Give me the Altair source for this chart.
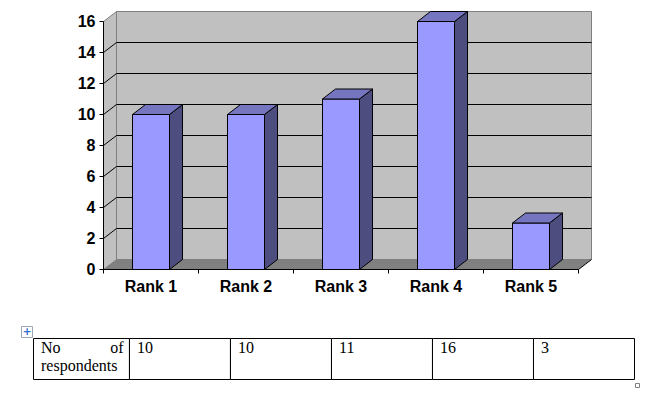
import altair as alt
import pandas as pd

# ---------------- data ----------------
categories = ["Rank 1", "Rank 2", "Rank 3", "Rank 4", "Rank 5"]
values = [10, 10, 11, 16, 3]
y_ticks = [0, 2, 4, 6, 8, 10, 12, 14, 16]
table_label = "No of respondents"

# ---------------- geometry / style constants ----------------
N = len(categories)
Y_MAX = y_ticks[-1]
W, H = 651, 380
X_RANGE = [95.5, 95.5 + 95 * N]
Y_RANGE = [261.5, 261.5 - 15.5 * Y_MAX]
PX_X = (X_RANGE[1] - X_RANGE[0]) / N          # pixels per category
PX_Y = (Y_RANGE[0] - Y_RANGE[1]) / Y_MAX      # pixels per value unit
BAR_HALF = 18.5 / PX_X
DX = 13 / PX_X
DZ = 10 / PX_Y
TICK = 4
LABEL_COL = 0.95

FRONT = "#9999ff"
SIDE = "#4d4d80"
TOP = "#7575c0"
WALL = "#c0c0c0"
FLOOR = "#808080"
EDGE = "#808080"
SANS = "Liberation Sans"
SERIF = "Liberation Serif"
AXIS_FONT_SIZE = 16

xs = alt.Scale(domain=[0, N], range=X_RANGE, nice=False, zero=False)
ys = alt.Scale(domain=[0, Y_MAX], range=Y_RANGE, nice=False, zero=False)


def X(f):
    return alt.X(f, scale=xs, axis=None)


def Y(f):
    return alt.Y(f, scale=ys, axis=None)


# ---------------- 3-D chart frame ----------------
wall_df = pd.DataFrame({"x": [DX], "x2": [N + DX], "y": [DZ], "y2": [Y_MAX + DZ]})
back = alt.Chart(wall_df).mark_rect(fill=WALL, stroke=EDGE, strokeWidth=1).encode(
    x=X("x:Q"), x2="x2:Q", y=Y("y:Q"), y2="y2:Q"
)

side_df = pd.DataFrame({"x": [0, DX], "y": [0, DZ], "y2": [Y_MAX, Y_MAX + DZ]})
side_wall = alt.Chart(side_df).mark_area(
    orient="vertical", fill=WALL, stroke=EDGE, strokeWidth=1
).encode(x=X("x:Q"), y=alt.Y("y:Q", scale=ys, axis=None, stack=None), y2="y2:Q")

floor_df = pd.DataFrame({"y": [0, DZ], "x": [0, DX], "x2": [N, N + DX]})
floor = alt.Chart(floor_df).mark_area(orient="horizontal", fill=FLOOR).encode(
    y=Y("y:Q"), x=alt.X("x:Q", scale=xs, axis=None, stack=None), x2="x2:Q"
)

floor_edge_df = pd.DataFrame({"x": [N], "x2": [N + DX], "y": [0], "y2": [DZ]})
floor_edge = alt.Chart(floor_edge_df).mark_rule(color="black", strokeWidth=1).encode(
    x=X("x:Q"), x2="x2:Q", y=Y("y:Q"), y2="y2:Q"
)

inner_ticks = y_ticks[1:-1]
grid_df = pd.DataFrame({
    "x": [DX] * len(inner_ticks), "x2": [N + DX] * len(inner_ticks),
    "y": [t + DZ for t in inner_ticks],
})
grid = alt.Chart(grid_df).mark_rule(color="black", strokeWidth=1).encode(
    x=X("x:Q"), x2="x2:Q", y=Y("y:Q")
)

diag_df = pd.DataFrame({
    "x": [0] * len(inner_ticks), "x2": [DX] * len(inner_ticks),
    "y": inner_ticks, "y2": [t + DZ for t in inner_ticks],
})
diag = alt.Chart(diag_df).mark_rule(color="black", strokeWidth=1).encode(
    x=X("x:Q"), x2="x2:Q", y=Y("y:Q"), y2="y2:Q"
)

# ---------------- axes (drawn through the scales) ----------------
axis_lines_df = pd.DataFrame({
    "x": [0, 0], "x2": [0, N], "y": [0, 0], "y2": [Y_MAX, 0],
})
axis_lines = alt.Chart(axis_lines_df).mark_rule(color="black", strokeWidth=1).encode(
    x=X("x:Q"), x2="x2:Q", y=Y("y:Q"), y2="y2:Q"
)

yt_df = pd.DataFrame({"y": y_ticks, "x": [-TICK / PX_X] * len(y_ticks),
                      "x2": [0] * len(y_ticks), "lab": [str(t) for t in y_ticks]})
y_tick_marks = alt.Chart(yt_df).mark_rule(color="black", strokeWidth=1).encode(
    x=X("x:Q"), x2="x2:Q", y=Y("y:Q")
)
y_labels = alt.Chart(yt_df).mark_text(
    align="right", baseline="middle", dx=-(TICK + 4), font=SANS, fontWeight="bold",
    fontSize=AXIS_FONT_SIZE, color="black",
).encode(x=X("x2:Q"), y=Y("y:Q"), text="lab:N")

xt_df = pd.DataFrame({"x": list(range(N + 1)), "y": [0] * (N + 1),
                      "y2": [-TICK / PX_Y] * (N + 1)})
x_tick_marks = alt.Chart(xt_df).mark_rule(color="black", strokeWidth=1).encode(
    x=X("x:Q"), y=Y("y:Q"), y2="y2:Q"
)

# ---------------- bars ----------------
bars_df = pd.DataFrame({"cat": categories, "v": values})
bars_df["i"] = range(N)
bars_df["xc"] = bars_df["i"] + 0.5
bars_df["xl"] = bars_df["xc"] - BAR_HALF
bars_df["xr"] = bars_df["xc"] + BAR_HALF
bars_df["base"] = 0

x_labels = alt.Chart(bars_df).mark_text(
    align="center", baseline="top", dy=TICK + 5, font=SANS, fontWeight="bold",
    fontSize=AXIS_FONT_SIZE, color="black",
).encode(x=X("xc:Q"), y=Y("base:Q"), text="cat:N")

front = alt.Chart(bars_df).mark_rect(fill=FRONT, stroke="black", strokeWidth=1).encode(
    x=X("xl:Q"), x2="xr:Q", y=Y("base:Q"), y2="v:Q"
)

side_rows, top_rows = [], []
for c, v, xl, xr in zip(bars_df["cat"], bars_df["v"], bars_df["xl"], bars_df["xr"]):
    side_rows.append({"cat": c, "x": xr, "y": 0, "y2": v})
    side_rows.append({"cat": c, "x": xr + DX, "y": DZ, "y2": v + DZ})
    top_rows.append({"cat": c, "y": v, "x": xl, "x2": xr})
    top_rows.append({"cat": c, "y": v + DZ, "x": xl + DX, "x2": xr + DX})

sides = alt.Chart(pd.DataFrame(side_rows)).mark_area(
    orient="vertical", fill=SIDE, stroke="black", strokeWidth=1
).encode(
    x=X("x:Q"), y=alt.Y("y:Q", scale=ys, axis=None, stack=None), y2="y2:Q",
    detail="cat:N",
)

tops = alt.Chart(pd.DataFrame(top_rows)).mark_area(
    orient="horizontal", fill=TOP, stroke="black", strokeWidth=1
).encode(
    y=Y("y:Q"), x=alt.X("x:Q", scale=xs, axis=None, stack=None), x2="x2:Q",
    detail="cat:N",
)

chart3d = alt.layer(
    back, side_wall, floor, grid, diag, floor_edge,
    axis_lines, y_tick_marks, x_tick_marks, y_labels, x_labels,
    front, sides, tops,
)

# ---------------- table ----------------
tx = alt.Scale(domain=[-LABEL_COL, N], range=[25.5, 626.5], nice=False, zero=False)
TABLE_TOP, TABLE_BOTTOM = 330.5, 371.5
LINE1, LINE2 = 345, 362.5

cells_df = pd.DataFrame({
    "x": [-LABEL_COL] + list(range(N)),
    "x2": [0] + [i + 1 for i in range(N)],
})
cells = alt.Chart(cells_df).mark_rect(fill="white", stroke="black", strokeWidth=1).encode(
    x=alt.X("x:Q", scale=tx, axis=None), x2="x2:Q",
    y=alt.value(TABLE_TOP), y2=alt.value(TABLE_BOTTOM),
)

vals_df = pd.DataFrame({"x": list(range(N)), "t": [str(v) for v in values]})
val_text = alt.Chart(vals_df).mark_text(
    align="left", baseline="alphabetic", dx=7.5, font=SERIF, fontSize=16, color="black"
).encode(x=alt.X("x:Q", scale=tx, axis=None), y=alt.value(LINE1), text="t:N")

words = table_label.split(" ")
lbl_left_df = pd.DataFrame({"x": [-LABEL_COL, -LABEL_COL], "t": [words[0], words[2]],
                            "y": [LINE1, LINE2]})
lbl_left = alt.Chart(lbl_left_df).mark_text(
    align="left", baseline="alphabetic", dx=7.5, font=SERIF, fontSize=16, color="black"
).encode(
    x=alt.X("x:Q", scale=tx, axis=None),
    y=alt.Y("y:Q", scale=alt.Scale(domain=[0, H], range=[0, H]), axis=None),
    text="t:N",
)
lbl_right_df = pd.DataFrame({"x": [0], "t": [words[1]]})
lbl_right = alt.Chart(lbl_right_df).mark_text(
    align="right", baseline="alphabetic", dx=-6, font=SERIF, fontSize=16, color="black"
).encode(x=alt.X("x:Q", scale=tx, axis=None), y=alt.value(LINE1), text="t:N")

table = alt.layer(cells, val_text, lbl_left, lbl_right)

# ---------------- decorations (Word table handles) ----------------
dummy = pd.DataFrame({"a": [0]})
move_box = alt.Chart(dummy).mark_rect(fill="white", stroke="#9aa6b8", strokeWidth=1).encode(
    x=alt.value(13.5), x2=alt.value(24.5), y=alt.value(318.5), y2=alt.value(329.5),
)
move_icon = alt.Chart(dummy).mark_text(
    text="+", font="DejaVu Sans", fontSize=11, fontWeight="bold", color="#3a6fd0",
    align="center", baseline="middle",
).encode(x=alt.value(19), y=alt.value(324))
size_box = alt.Chart(dummy).mark_rect(fill="white", stroke="#808080", strokeWidth=1).encode(
    x=alt.value(627.5), x2=alt.value(631.5), y=alt.value(375.5), y2=alt.value(379.5),
)
decor = alt.layer(move_box, move_icon, size_box)

chart = alt.layer(chart3d, table, decor).resolve_scale(
    x="independent", y="independent"
).properties(
    width=W, height=H, padding=0, autosize=alt.AutoSizeParams(type="none"),
    background="white",
).configure_view(strokeWidth=0)

chart.save("out.html", embed_options={"renderer": "svg", "actions": False})
